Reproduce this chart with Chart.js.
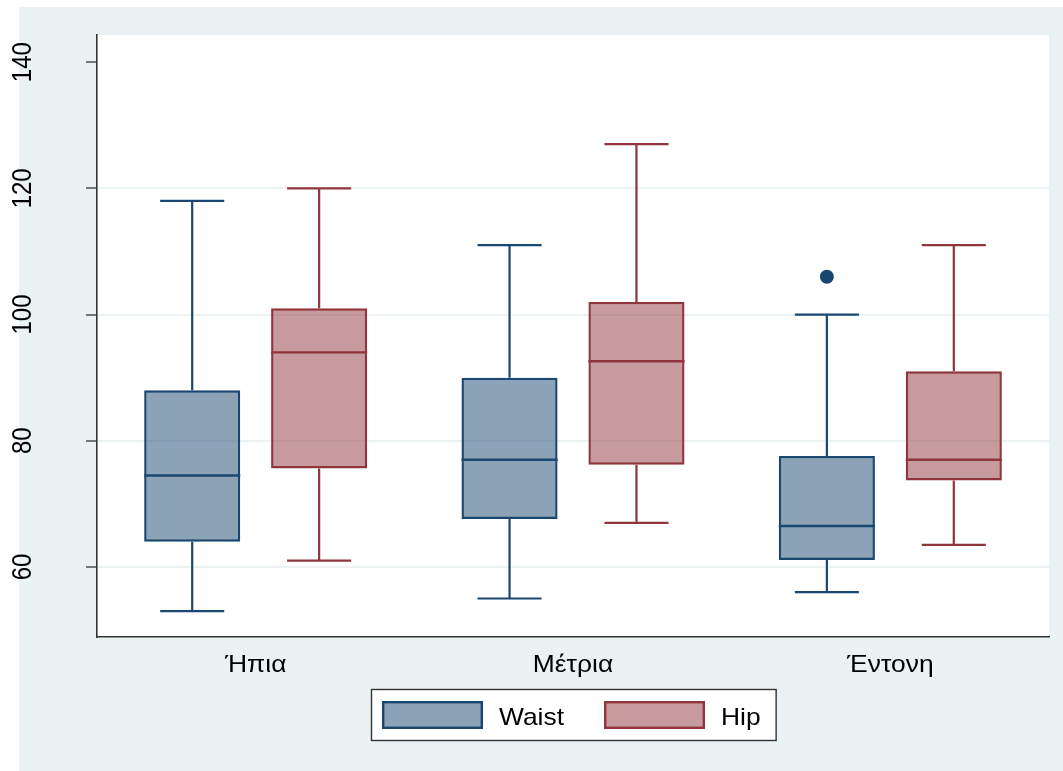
<!DOCTYPE html>
<html>
<head>
<meta charset="utf-8">
<script src="https://cdn.jsdelivr.net/npm/chart.js@4.4.1/dist/chart.umd.min.js"></script>
<style>
  html, body { margin: 0; padding: 0; background: #ffffff; }
  #wrap { width: 1063px; height: 771px; }
</style>
</head>
<body>
<div id="wrap"><canvas id="c" width="1063" height="771"></canvas></div>
<script>
// Intensity groups on the x axis
const categories = ['Ήπια', 'Μέτρια', 'Έντονη'];
const seriesNames = ['Waist', 'Hip'];

// Waist circumference: five-number summary per group, plus outside values
const waistMin = [53, 55, 56];
const waistQ1 = [64, 67.6, 61.1];
const waistMedian = [74.5, 77, 66.5];
const waistQ3 = [88, 90, 77.6];
const waistMax = [118, 111, 100];
const waistOutliers = [[], [], [106]];

// Hip circumference
const hipMin = [61, 67, 63.5];
const hipQ1 = [75.6, 76.2, 73.7];
const hipMedian = [94, 92.6, 77];
const hipQ3 = [101, 102, 91];
const hipMax = [120, 127, 111];
const hipOutliers = [[], [], []];

const yTicks = [60, 80, 100, 120, 140];

const navy = '#1a476f';
const maroon = '#90353b';
const navyFill = 'rgba(26,71,111,0.5)';
const maroonFill = 'rgba(144,53,59,0.5)';
const regionColor = '#eaf2f3';
const fontFamily = '"Liberation Sans", Arial, sans-serif';
const labelFont = '24px ' + fontFamily;
const textStretch = 1.1;   // slightly wide lettering

const summaries = [
  { min: waistMin, q1: waistQ1, med: waistMedian, q3: waistQ3, max: waistMax, out: waistOutliers, line: navy, fill: navyFill },
  { min: hipMin, q1: hipQ1, med: hipMedian, q3: hipQ3, max: hipMax, out: hipOutliers, line: maroon, fill: maroonFill }
];

function wideText(ctx, text, x, y, align) {
  ctx.save();
  ctx.translate(x, y);
  ctx.scale(textStretch, 1);
  ctx.textAlign = align;
  ctx.fillText(text, 0, 0);
  ctx.restore();
}

// Graph region background and white plot region
const backdrop = {
  id: 'backdrop',
  beforeDraw(chart) {
    const { ctx, chartArea: a } = chart;
    ctx.save();
    ctx.fillStyle = regionColor;
    ctx.fillRect(19, 7, chart.width - 19, chart.height - 7);
    ctx.fillStyle = '#ffffff';
    ctx.fillRect(a.left, a.top, a.right - a.left, a.bottom - a.top);
    ctx.restore();
  }
};

// Axis labels: vertical numbers at the y ticks, group names under the x categories
const axisLabels = {
  id: 'axisLabels',
  afterDraw(chart) {
    const { ctx } = chart;
    const y = chart.scales.y;
    const x = chart.scales.x;
    ctx.save();
    ctx.font = labelFont;
    ctx.fillStyle = '#000000';
    ctx.textBaseline = 'middle';
    y.ticks.forEach(t => {
      ctx.save();
      ctx.translate(23, y.getPixelForValue(t.value));
      ctx.scale(1.15, 1);
      ctx.rotate(-Math.PI / 2);
      ctx.textAlign = 'center';
      ctx.fillText(String(t.value), 0, 0);
      ctx.restore();
    });
    ctx.textBaseline = 'alphabetic';
    x.getLabels().forEach((lab, i) => {
      wideText(ctx, lab, x.getPixelForValue(i), 672, 'center');
    });
    ctx.restore();
  }
};

// Whiskers, caps, medians and outside values, positioned from the bar elements and the y scale
const boxParts = {
  id: 'boxParts',
  beforeDatasetsDraw(chart) {
    const { ctx } = chart;
    const y = chart.scales.y;
    ctx.save();
    ctx.lineWidth = 2.2;
    ctx.lineCap = 'butt';
    summaries.forEach((s, d) => {
      const meta = chart.getDatasetMeta(d);
      meta.data.forEach((bar, i) => {
        const { x, width } = bar.getProps(['x', 'width'], true);
        const half = width / 3;
        ctx.strokeStyle = s.line;
        ctx.beginPath();
        ctx.moveTo(x, y.getPixelForValue(s.q3[i]));
        ctx.lineTo(x, y.getPixelForValue(s.max[i]));
        ctx.moveTo(x - half, y.getPixelForValue(s.max[i]));
        ctx.lineTo(x + half, y.getPixelForValue(s.max[i]));
        ctx.moveTo(x, y.getPixelForValue(s.q1[i]));
        ctx.lineTo(x, y.getPixelForValue(s.min[i]));
        ctx.moveTo(x - half, y.getPixelForValue(s.min[i]));
        ctx.lineTo(x + half, y.getPixelForValue(s.min[i]));
        ctx.stroke();
      });
    });
    ctx.restore();
  },
  afterDatasetsDraw(chart) {
    const { ctx } = chart;
    const y = chart.scales.y;
    ctx.save();
    ctx.lineWidth = 2.4;
    summaries.forEach((s, d) => {
      const meta = chart.getDatasetMeta(d);
      meta.data.forEach((bar, i) => {
        const { x, width } = bar.getProps(['x', 'width'], true);
        const ym = y.getPixelForValue(s.med[i]);
        ctx.strokeStyle = s.line;
        ctx.beginPath();
        ctx.moveTo(x - width / 2, ym);
        ctx.lineTo(x + width / 2, ym);
        ctx.stroke();
        ctx.fillStyle = s.line;
        s.out[i].forEach(v => {
          ctx.beginPath();
          ctx.arc(x, y.getPixelForValue(v), 7, 0, Math.PI * 2);
          ctx.fill();
        });
      });
    });
    ctx.restore();
  }
};

// Boxed legend below the x axis
const boxedLegend = {
  id: 'boxedLegend',
  afterDraw(chart) {
    const { ctx, chartArea: a } = chart;
    ctx.save();
    ctx.font = labelFont;
    const sw = 101, sh = 28, gap = 16, itemGap = 40, padL = 11, padR = 15;
    const widths = seriesNames.map(n => ctx.measureText(n).width * textStretch);
    let total = padL + padR;
    widths.forEach((w, k) => { total += sw + gap + w + (k ? itemGap : 0); });
    const cx = (a.left + a.right) / 2;
    const left = Math.round(cx - total / 2);
    const top = 689, h = 51;
    ctx.fillStyle = '#ffffff';
    ctx.fillRect(left, top, total, h);
    ctx.strokeStyle = '#333333';
    ctx.lineWidth = 1.4;
    ctx.strokeRect(left + 0.5, top + 0.5, total, h);
    let xpos = left + padL;
    const swTop = 701;
    seriesNames.forEach((n, k) => {
      if (k) xpos += itemGap;
      const s = summaries[k];
      ctx.fillStyle = s.fill;
      ctx.fillRect(xpos, swTop, sw, sh);
      ctx.strokeStyle = s.line;
      ctx.lineWidth = 2.4;
      ctx.strokeRect(xpos + 1.2, swTop + 1.2, sw - 2.4, sh - 2.4);
      xpos += sw + gap;
      ctx.fillStyle = '#000000';
      ctx.textBaseline = 'alphabetic';
      wideText(ctx, n, xpos, 725, 'left');
      xpos += widths[k];
    });
    ctx.restore();
  }
};

new Chart(document.getElementById('c'), {
  type: 'bar',
  data: {
    labels: categories,
    datasets: summaries.map((s, d) => ({
      label: seriesNames[d],
      data: categories.map((_, i) => [s.q1[i], s.q3[i]]),
      backgroundColor: s.fill,
      borderColor: s.line,
      borderWidth: 2.4,
      borderSkipped: false,
      barPercentage: 0.757,
      categoryPercentage: 0.8
    }))
  },
  options: {
    responsive: false,
    animation: false,
    layout: { padding: { left: 20, top: 35, right: 14, bottom: 0 } },
    plugins: {
      legend: { display: false },
      tooltip: { enabled: false }
    },
    scales: {
      x: {
        grid: { display: false, drawTicks: false },
        border: { display: true, color: '#333333', width: 1.6 },
        ticks: { display: false },
        afterFit(s) { s.height = 134; }
      },
      y: {
        min: 48.9,
        max: 144.3,
        afterBuildTicks(s) { s.ticks = yTicks.map(v => ({ value: v })); },
        grid: {
          color: c => (c.tick && c.tick.value === 140 ? 'rgba(0,0,0,0)' : regionColor),
          lineWidth: 2,
          drawTicks: true,
          tickLength: 11,
          tickColor: '#333333',
          tickWidth: 1.3
        },
        border: { display: true, color: '#333333', width: 1.6 },
        ticks: { display: false },
        afterFit(s) { s.width = 77; }
      }
    }
  },
  plugins: [backdrop, boxParts, axisLabels, boxedLegend]
});
</script>
</body>
</html>
